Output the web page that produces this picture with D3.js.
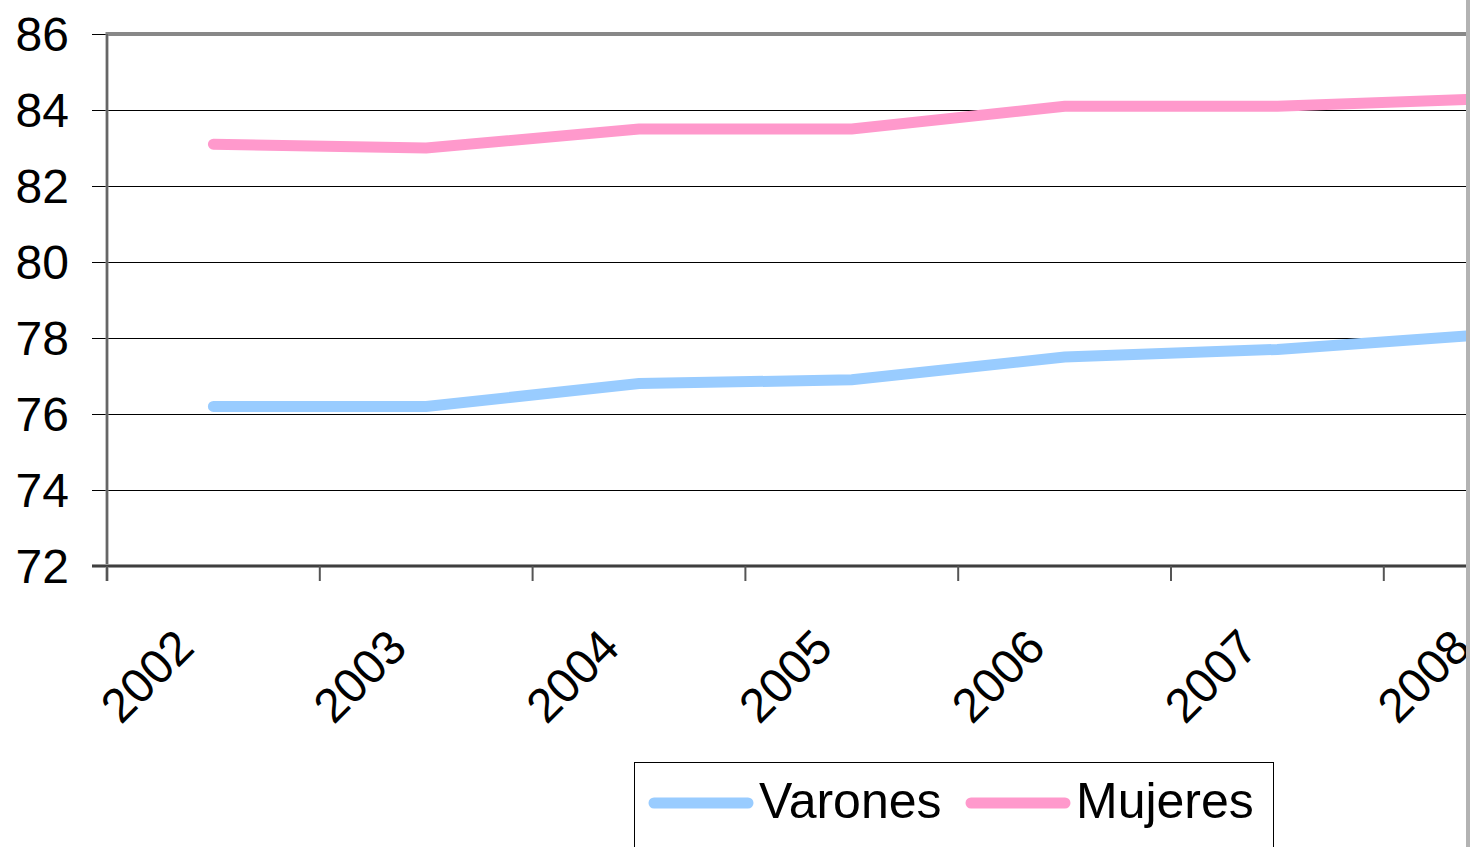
<!DOCTYPE html>
<html>
<head>
<meta charset="utf-8">
<script src="https://cdn.jsdelivr.net/npm/d3@7"></script>
<style>
  html, body { margin: 0; padding: 0; background: #fff; }
  svg { display: block; font-family: "Liberation Sans", Arial, sans-serif; }
</style>
</head>
<body>
<svg id="chart" width="1470" height="847"></svg>
<script>
const years = ["2002", "2003", "2004", "2005", "2006", "2007", "2008"];
const varones = [76.2, 76.2, 76.8, 76.9, 77.5, 77.7, 78.1];
const mujeres = [83.1, 83.0, 83.5, 83.5, 84.1, 84.1, 84.3];
const yTicks = [72, 74, 76, 78, 80, 82, 84, 86];
const seriesNames = ["Varones", "Mujeres"];
const seriesColors = ["#99CCFF", "#FF99CC"];

(function () {
const svg = d3.select("#chart");
const W = 1470, H = 847;
const pLeft = 107, pTop = 34, pBottom = 566;
const band = 212.8;
const clipRight = 1466;

const x = d3.scaleBand().domain(years).range([pLeft, pLeft + band * years.length]).padding(0);
const y = d3.scaleLinear().domain([72, 86]).range([pBottom, pTop]);

svg.append("defs").append("clipPath").attr("id", "clip")
  .append("rect").attr("x", 0).attr("y", 0).attr("width", clipRight).attr("height", H);

const g = svg.append("g").attr("clip-path", "url(#clip)");

// gridlines
g.selectAll("line.grid").data(yTicks.filter(t => t > 72 && t < 86)).enter()
  .append("line").attr("class", "grid")
  .attr("x1", pLeft).attr("x2", x.range()[1])
  .attr("y1", d => Math.round(y(d)) + 0.5).attr("y2", d => Math.round(y(d)) + 0.5)
  .attr("stroke", "#000").attr("stroke-width", 1);

// top border
g.append("line").attr("x1", pLeft).attr("x2", x.range()[1])
  .attr("y1", y(86)).attr("y2", y(86)).attr("stroke", "#888").attr("stroke-width", 4);

// y tick marks
g.selectAll("line.ytick").data(yTicks).enter().append("line")
  .attr("x1", pLeft - 15).attr("x2", pLeft)
  .attr("y1", d => Math.round(y(d)) + 0.5).attr("y2", d => Math.round(y(d)) + 0.5)
  .attr("stroke", "#000").attr("stroke-width", 1);

// y axis line
g.append("line").attr("x1", pLeft).attr("x2", pLeft).attr("y1", pTop - 2).attr("y2", pBottom + 15)
  .attr("stroke", "#888").attr("stroke-width", 3);
g.append("line").attr("x1", pLeft).attr("x2", pLeft).attr("y1", pTop).attr("y2", pBottom + 15)
  .attr("stroke", "#444").attr("stroke-width", 1);

// x axis line
g.append("line").attr("x1", pLeft - 15).attr("x2", x.range()[1]).attr("y1", pBottom).attr("y2", pBottom)
  .attr("stroke", "#999").attr("stroke-width", 4);
g.append("line").attr("x1", pLeft - 15).attr("x2", x.range()[1]).attr("y1", pBottom).attr("y2", pBottom)
  .attr("stroke", "#222").attr("stroke-width", 1.5);

// x tick marks
g.selectAll("line.xtick").data(years).enter().append("line")
  .attr("x1", d => x(d)).attr("x2", d => x(d))
  .attr("y1", pBottom).attr("y2", pBottom + 15)
  .attr("stroke", "#555").attr("stroke-width", 2);

// y labels
svg.selectAll("text.ylab").data(yTicks).enter().append("text")
  .attr("x", 69).attr("y", d => y(d)).attr("dy", "0.35em")
  .attr("text-anchor", "end").attr("font-size", 48).attr("fill", "#000")
  .text(d => d);

// x labels
g.selectAll("text.xlab").data(years).enter().append("text")
  .attr("transform", d => `translate(${x(d) + x.bandwidth() / 2 - 17},650) rotate(-45)`)
  .attr("text-anchor", "end").attr("font-size", 48).attr("fill", "#000")
  .text(d => d);

// lines
const line = d3.line().x((d, i) => x(years[i]) + x.bandwidth() / 2).y(d => y(d));
[varones, mujeres].forEach((vals, k) => {
  g.append("path").datum(vals)
    .attr("d", line).attr("fill", "none")
    .attr("stroke", seriesColors[k]).attr("stroke-width", 11)
    .attr("stroke-linecap", "round").attr("stroke-linejoin", "miter");
});

// legend
const lg = svg.append("g");
lg.append("rect").attr("x", 634.5).attr("y", 762.5).attr("width", 639).attr("height", 120)
  .attr("fill", "#fff").attr("stroke", "#000").attr("stroke-width", 1);
const legX = [654, 971];
seriesNames.forEach((name, k) => {
  lg.append("line").attr("x1", legX[k]).attr("x2", legX[k] + 94)
    .attr("y1", 803).attr("y2", 803)
    .attr("stroke", seriesColors[k]).attr("stroke-width", 11).attr("stroke-linecap", "round");
  lg.append("text").attr("x", legX[k] + 105).attr("y", 818)
    .attr("font-size", 50).attr("fill", "#000").text(name);
});

// right edge gray bar
svg.append("rect").attr("x", clipRight).attr("y", 0).attr("width", W - clipRight).attr("height", H)
  .attr("fill", "#b3b3b3");
})();
</script>
</body>
</html>
